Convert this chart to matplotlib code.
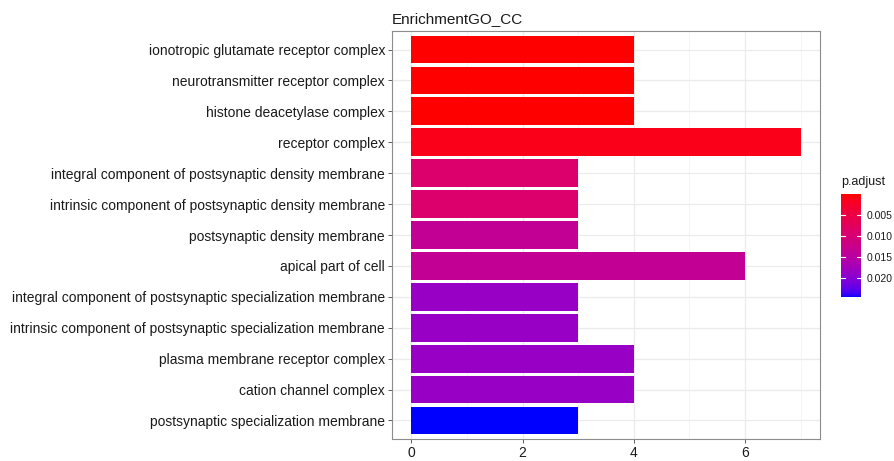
import numpy as np
import matplotlib
matplotlib.use("Agg")
import matplotlib.pyplot as plt
from matplotlib.colors import ListedColormap, Normalize

plt.rcParams['font.family'] = ['Liberation Sans', 'DejaVu Sans']

terms = [
    "ionotropic glutamate receptor complex",
    "neurotransmitter receptor complex",
    "histone deacetylase complex",
    "receptor complex",
    "integral component of postsynaptic density membrane",
    "intrinsic component of postsynaptic density membrane",
    "postsynaptic density membrane",
    "apical part of cell",
    "integral component of postsynaptic specialization membrane",
    "intrinsic component of postsynaptic specialization membrane",
    "plasma membrane receptor complex",
    "cation channel complex",
    "postsynaptic specialization membrane",
]
counts = [4, 4, 4, 7, 3, 3, 3, 6, 3, 3, 4, 4, 3]
p_adjust = [0.0001, 0.0001, 0.0001, 0.0013, 0.0091, 0.0091, 0.0135, 0.0135,
            0.0186, 0.0186, 0.0186, 0.0186, 0.0245]
cbar_ticks = [0.005, 0.010, 0.015, 0.020]


def lab_gradient(c1, c2, n=256):
    # red -> blue interpolated in CIE Lab, like ggplot's continuous scale
    def to_lin(c):
        c = np.asarray(c, float)
        return np.where(c <= 0.04045, c / 12.92, ((c + 0.055) / 1.055) ** 2.4)

    def to_srgb(c):
        c = np.clip(c, 0, 1)
        return np.where(c <= 0.0031308, 12.92 * c, 1.055 * c ** (1 / 2.4) - 0.055)

    M = np.array([[0.4124, 0.3576, 0.1805],
                  [0.2126, 0.7152, 0.0722],
                  [0.0193, 0.1192, 0.9505]])
    white = M @ np.ones(3)

    def f(t):
        return np.where(t > (6 / 29) ** 3, np.cbrt(t), t / (3 * (6 / 29) ** 2) + 4 / 29)

    def finv(t):
        return np.where(t > 6 / 29, t ** 3, 3 * (6 / 29) ** 2 * (t - 4 / 29))

    def rgb2lab(c):
        xyz = M @ to_lin(c) / white
        fx, fy, fz = f(xyz)
        return np.array([116 * fy - 16, 500 * (fx - fy), 200 * (fy - fz)])

    def lab2rgb(lab):
        L, a, b = lab
        fy = (L + 16) / 116
        xyz = np.array([finv(fy + a / 500), finv(fy), finv(fy - b / 200)]) * white
        return to_srgb(np.linalg.solve(M, xyz))

    l1, l2 = rgb2lab(c1), rgb2lab(c2)
    return ListedColormap([lab2rgb(l1 + (l2 - l1) * t) for t in np.linspace(0, 1, n)])


cmap = lab_gradient((1, 0, 0), (0, 0, 1))
norm = Normalize(min(p_adjust), max(p_adjust))

fig = plt.figure(figsize=(8.94, 4.61), dpi=100)
ax = fig.add_axes([392 / 894, 1 - 439 / 461, (820 - 392) / 894, (439 - 31) / 461])

y = np.arange(len(terms))
ax.barh(y, counts, height=0.9, color=cmap(norm(p_adjust)), zorder=3)
ax.set_ylim(len(terms) - 0.4, -0.6)
ax.set_xlim(-0.35, 7.35)
ax.set_yticks(y)
ax.set_yticklabels(terms, fontsize=10, color='#1a1a1a')
ax.set_xticks([0, 2, 4, 6])
ax.set_xticks([1, 3, 5, 7], minor=True)
ax.tick_params(axis='x', labelsize=10, labelcolor='#1a1a1a')
ax.tick_params(which='major', length=3, width=0.6, color='#444444', pad=2)
ax.tick_params(which='minor', length=0)
ax.grid(which='major', color='#ebebeb', lw=0.9, zorder=0)
ax.grid(which='minor', axis='x', color='#f2f2f2', lw=0.5, zorder=0)
for s in ax.spines.values():
    s.set_color('#8c8c8c')
    s.set_linewidth(0.8)
ax.set_title("EnrichmentGO_CC", loc='left', fontsize=11, pad=6, color='#1a1a1a')

# colour bar, smallest p.adjust on top
cax = fig.add_axes([841 / 894, 1 - 297 / 461, 20 / 894, 103 / 461])
grad = np.linspace(norm.vmin, norm.vmax, 256).reshape(-1, 1)
cax.imshow(grad, aspect='auto', cmap=cmap, norm=norm,
           extent=[0, 1, norm.vmax, norm.vmin])
cax.set_ylim(norm.vmax, norm.vmin)
cax.set_xlim(0, 1)
for t in cbar_ticks:
    cax.plot([0, 0.2], [t, t], color='white', lw=0.8)
    cax.plot([0.8, 1], [t, t], color='white', lw=0.8)
cax.set_xticks([])
cax.yaxis.tick_right()
cax.set_yticks(cbar_ticks)
cax.set_yticklabels([f"{t:.3f}" for t in cbar_ticks])
cax.tick_params(axis='y', length=0, labelsize=7.5, pad=4, labelcolor='#1a1a1a')
for s in cax.spines.values():
    s.set_visible(False)
fig.text(841 / 894, 1 - 182 / 461, "p.adjust", fontsize=9, va='center', ha='left',
         color='#1a1a1a')

fig.savefig("out.png", dpi=100)
